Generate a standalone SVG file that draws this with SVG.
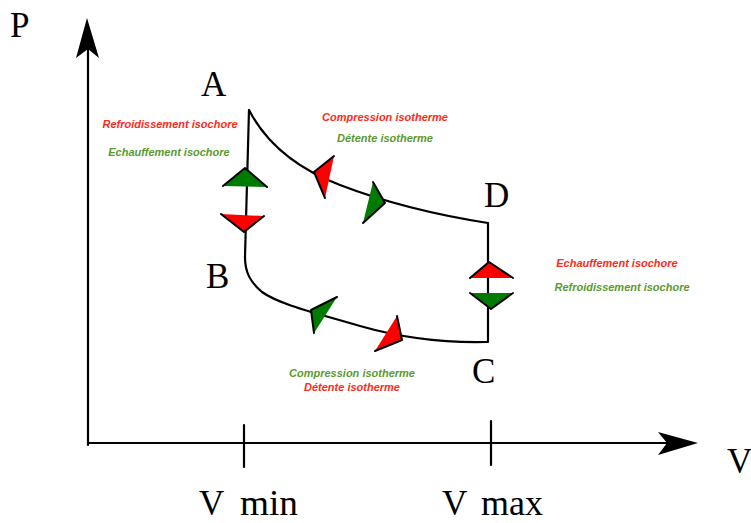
<svg xmlns="http://www.w3.org/2000/svg" width="751" height="523" viewBox="0 0 751 523">
<style>
.line{fill:none;stroke:#000;stroke-width:2.2;stroke-linecap:round;stroke-linejoin:round}
.big{font-family:"Liberation Serif","Times New Roman",serif;font-size:35px;fill:#000}
.lbl{font-family:"Liberation Sans",Arial,sans-serif;font-size:11px;font-weight:bold;font-style:italic;text-anchor:middle}
.r{fill:#ff2a1a}
.g{fill:#5a9a2e}
.tr{fill:#ff0000;stroke:none}
.tg{fill:#007a00;stroke:none}
.edge{fill:none;stroke:#000;stroke-width:2;stroke-linejoin:round;stroke-linecap:round}
</style>
<rect width="751" height="523" fill="#fff"/>
<g id="axes">
  <line class="line" x1="88" y1="445" x2="88" y2="48"/>
  <line class="line" x1="88" y1="443" x2="670" y2="443"/>
  <path d="M87,18 L99,58 L88,49 L76,58 Z" fill="#000"/>
  <path d="M698,443 L658,455 L667,443 L658,432 Z" fill="#000"/>
  <line class="line" x1="244" y1="425" x2="244" y2="467"/>
  <line class="line" x1="491" y1="421" x2="491" y2="465"/>
  <text class="big" x="10" y="37">P</text>
  <text class="big" x="727" y="473">V</text>
  <text class="big" x="199" y="515">V</text>
  <text class="big" x="240" y="515" textLength="58" lengthAdjust="spacingAndGlyphs">min</text>
  <text class="big" x="442" y="515">V</text>
  <text class="big" x="481" y="515" textLength="62" lengthAdjust="spacingAndGlyphs">max</text>
</g>
<g id="cycle">
  <path class="line" d="M249,110 Q275,160 340,185 T488,223 L488,342 L486,342 C440,343 402,338 360,326 C320,314 280,305 262,292 C250,282 245,272 245,257 L249,110"/>
</g>
<g id="A"><text class="big" x="201" y="96">A</text></g>
<g id="B"><text class="big" x="206" y="288">B</text></g>
<g id="C"><text class="big" x="472" y="383">C</text></g>
<g id="D"><text class="big" x="484" y="207">D</text></g>
<g id="arrows">
  <polygon class="tg" points="245,168 267,187 223,186"/>
  <polyline class="edge" points="223,186 245,168 267,187"/>
  <polygon class="tr" points="244,232 264,216 221,214"/>
  <polyline class="edge" points="221,214 244,232 264,216"/>
  <polygon class="tr" points="489,262 513,278 470,278"/>
  <polyline class="edge" points="470,278 489,262 513,278"/>
  <polygon class="tg" points="491,309 513,293 470,293"/>
  <polyline class="edge" points="470,293 491,309 513,293"/>
  <polygon class="tr" points="314,172 334,156 325,198"/>
  <polyline class="edge" points="334,156 314,172 325,198"/>
  <polygon class="tg" points="385,203 373,182 363,223"/>
  <polyline class="edge" points="373,182 385,203 363,223"/>
  <polygon class="tg" points="311,310 337,297 314,333"/>
  <polyline class="edge" points="337,297 311,310 314,333"/>
  <polygon class="tr" points="402,340 397,316 375,351"/>
  <polyline class="edge" points="397,316 402,340 375,351"/>
</g>
<g id="labels">
  <text class="lbl r" x="170" y="128">Refroidissement isochore</text>
  <text class="lbl g" x="169" y="156">Echauffement isochore</text>
  <text class="lbl r" x="385" y="121">Compression isotherme</text>
  <text class="lbl g" x="385" y="142">Détente isotherme</text>
  <text class="lbl r" x="617" y="267">Echauffement isochore</text>
  <text class="lbl g" x="622" y="291">Refroidissement isochore</text>
  <text class="lbl g" x="352" y="377">Compression isotherme</text>
  <text class="lbl r" x="352" y="391">Détente isotherme</text>
</g>
</svg>
